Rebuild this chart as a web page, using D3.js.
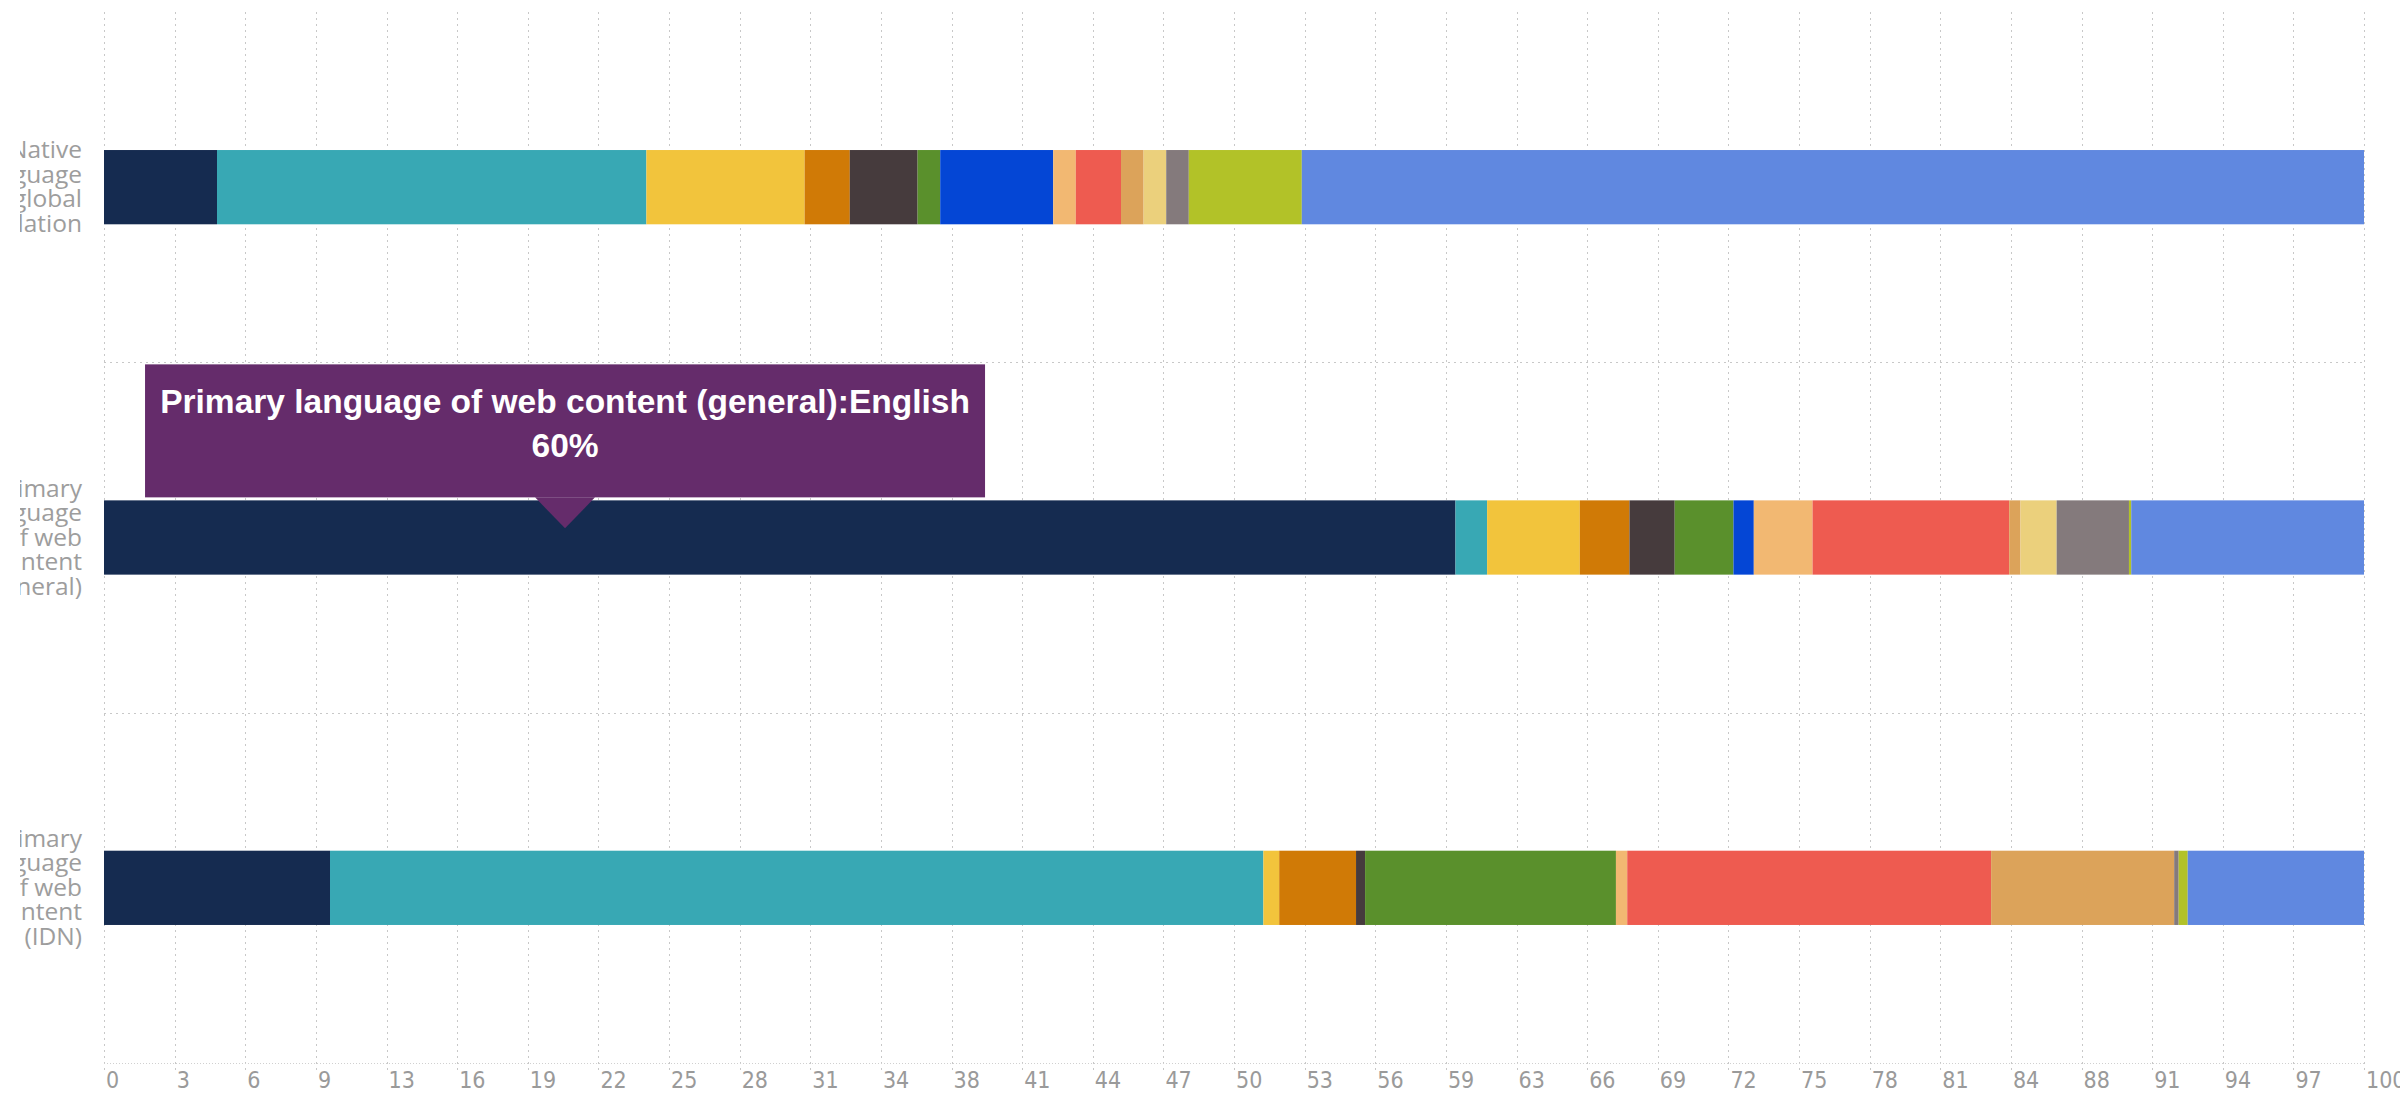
<!DOCTYPE html>
<html>
<head>
<meta charset="utf-8">
<script src="https://cdn.jsdelivr.net/npm/d3@7"></script>
<style>
  html, body { margin: 0; padding: 0; background: #ffffff; overflow: hidden; }
  svg { display: block; }
</style>
</head>
<body>
<svg id="chart" width="2400" height="1098"></svg>
<script>
// ---- data ----
const categories = [
  "Native language of global population",
  "Primary language of web content (general)",
  "Primary language of web content (IDN)"
];
const languages = ["English", "Chinese", "Spanish", "Japanese", "Portuguese", "German", "Arabic",
  "French", "Russian", "Korean", "Turkish", "Persian", "Hindi", "Other"];
const colors = ["#152b50", "#38a8b4", "#f2c43c", "#d07a06", "#463b3d", "#5a902c", "#0446d5",
  "#f2b872", "#ee5b50", "#dca35a", "#ebd07c", "#847a7c", "#b2c228", "#6088e0"];
const nativeValues     = [5, 19, 7, 2, 3, 1, 5, 1, 2, 1, 1, 1, 5, 47];
const webGeneralValues = [59.8, 1.4, 4.1, 2.2, 2.0, 2.6, 0.9, 2.6, 8.7, 0.5, 1.6, 3.2, 0.1, 10.3];
const webIdnValues     = [10.0, 41.3, 0.7, 3.4, 0.4, 11.1, 0, 0.5, 16.1, 8.1, 0, 0.2, 0.4, 7.8];
const tickLabels = ["0","3","6","9","13","16","19","22","25","28","31","34","38","41","44","47",
  "50","53","56","59","63","66","69","72","75","78","81","84","88","91","94","97","100"];
const tooltipCategory = 1;   // hovered bar
const tooltipSeries = 0;     // hovered segment
const tooltipPointer = 20.4; // mouse position in axis units

// ---- layout ----
const svg = d3.select("#chart");
const plotLeft = 104, plotRight = 2364, plotTop = 12, plotBottom = 1063;

const x = d3.scaleLinear().domain([0, 100]).range([plotLeft, plotRight]);
const y = d3.scaleBand().domain(categories).range([plotTop, plotBottom])
  .paddingInner(0.788).paddingOuter(0.394);

const seriesByCat = [nativeValues, webGeneralValues, webIdnValues];
const rows = categories.map((c, i) => {
  const obj = { category: c };
  languages.forEach((l, j) => obj[l] = seriesByCat[i][j]);
  return obj;
});
const stacked = d3.stack().keys(languages)(rows);

// ---- grid ----
const tickVals = tickLabels.map((t, i) => i * 100 / (tickLabels.length - 1));
const grid = svg.append("g").attr("class", "grid");
grid.selectAll("line.v").data(tickVals).join("line")
  .attr("class", "v")
  .attr("x1", d => Math.round(x(d)) + 0.5).attr("x2", d => Math.round(x(d)) + 0.5)
  .attr("y1", plotTop).attr("y2", plotBottom + 10)
  .attr("stroke", "#c8c8c8").attr("stroke-width", 1).attr("stroke-dasharray", "2,4");
const step = y.step();
const hLines = d3.range(1, categories.length).map(i => y.range()[0] + i * step);
grid.selectAll("line.h").data(hLines).join("line")
  .attr("class", "h")
  .attr("x1", plotLeft).attr("x2", plotRight)
  .attr("y1", d => Math.round(d) + 0.5).attr("y2", d => Math.round(d) + 0.5)
  .attr("stroke", "#c8c8c8").attr("stroke-width", 1).attr("stroke-dasharray", "2,4");
// axis baseline
svg.append("line")
  .attr("x1", plotLeft).attr("x2", plotRight)
  .attr("y1", plotBottom + 0.5).attr("y2", plotBottom + 0.5)
  .attr("stroke", "#d0d0d0").attr("stroke-width", 1).attr("stroke-dasharray", "1,2");

// ---- bars ----
svg.append("g").selectAll("g").data(stacked).join("g")
  .attr("fill", (d, i) => colors[i])
  .selectAll("rect").data(d => d).join("rect")
  .attr("x", d => x(d[0]))
  .attr("width", d => Math.max(0, x(d[1]) - x(d[0])))
  .attr("y", d => y(d.data.category))
  .attr("height", y.bandwidth());

// ---- x axis labels ----
svg.append("g").selectAll("text").data(tickVals).join("text")
  .attr("x", d => x(d) + 2)
  .attr("y", plotBottom + 25)
  .attr("text-anchor", "start")
  .attr("font-family", "'Liberation Sans Narrow', 'DejaVu Sans Condensed', sans-serif")
  .attr("font-size", 23)
  .attr("fill", "#9a9a9a")
  .text((d, i) => tickLabels[i]);

// ---- y labels (wrapped, clipped on the left) ----
svg.append("clipPath").attr("id", "labclip")
  .append("rect").attr("x", 20).attr("y", 0).attr("width", 80).attr("height", 1098);
function wrap(s, maxChars) {
  const words = s.split(" ");
  const lines = [];
  let cur = "";
  words.forEach(w => {
    if (!cur) cur = w;
    else if ((cur + " " + w).length <= maxChars) cur += " " + w;
    else { lines.push(cur); cur = w; }
  });
  if (cur) lines.push(cur);
  return lines;
}
const lineH = 24.5;
const labG = svg.append("g").attr("clip-path", "url(#labclip)");
categories.forEach(c => {
  const lines = wrap(c, 9);
  const cy = y(c) + y.bandwidth() / 2;
  const t = labG.append("text")
    .attr("text-anchor", "end")
    .attr("font-family", "'Open Sans', sans-serif")
    .attr("font-size", 24.5)
    .attr("fill", "#9d9d9d");
  lines.forEach((ln, i) => {
    t.append("tspan")
      .attr("x", 82)
      .attr("y", cy + (i - (lines.length - 1) / 2) * lineH + 8)
      .text(ln);
  });
});

// ---- tooltip ----
const tipX = x(tooltipPointer);
const tipY = y(categories[tooltipCategory]) + 28;
const boxW = 840, boxH = 133, arrowH = 31, arrowHalf = 30;
const boxBottom = tipY - arrowH;
const tip = svg.append("g");
tip.append("rect")
  .attr("x", tipX - boxW / 2).attr("y", boxBottom - boxH)
  .attr("width", boxW).attr("height", boxH)
  .attr("fill", "#652c6b");
tip.append("path")
  .attr("d", `M${tipX - arrowHalf},${boxBottom} L${tipX + arrowHalf},${boxBottom} L${tipX},${tipY} Z`)
  .attr("fill", "#652c6b");
const tipLines = [
  categories[tooltipCategory] + ":" + languages[tooltipSeries],
  Math.round(seriesByCat[tooltipCategory][tooltipSeries]) + "%"
];
tipLines.forEach((s, i) => {
  tip.append("text")
    .attr("x", tipX)
    .attr("y", boxBottom - boxH + 49 + i * 44)
    .attr("text-anchor", "middle")
    .attr("font-family", "'Liberation Sans', Arial, sans-serif")
    .attr("font-weight", "bold")
    .attr("font-size", 33.5)
    .attr("fill", "#ffffff")
    .text(s);
});
</script>
</body>
</html>
